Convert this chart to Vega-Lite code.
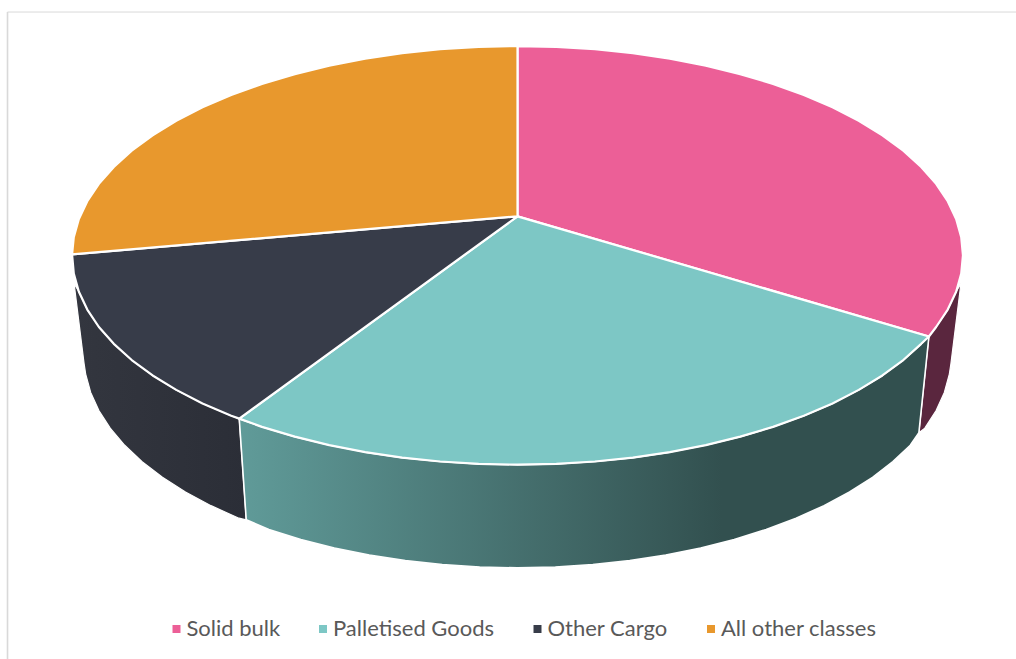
{
"$schema":"https://vega.github.io/schema/vega-lite/v6.json",
"width":1016,"height":659,"padding":0,
"autosize":{"type":"fit","contains":"padding"},
"background":"white",
"config":{"view":{"stroke":null},"font":"Lato"},
"datasets":{
"frame":[{"x":-509.5,"x2":499,"y":204,"y2":-443}],
"walls_bulk":[
{"seq":0,"x":443,"y":-67},{"seq":1,"x":433,"y":-147},{"seq":2,"x":431.4,"y":-157.5},{"seq":3,"x":426.4,"y":-175.8},{"seq":4,"x":418.2,"y":-193.9},{"seq":5,"x":406.9,"y":-211.5},{"seq":6,"x":401,"y":-216},{"seq":7,"x":411,"y":-120},{"seq":8,"x":418.2,"y":-110.5},{"seq":9,"x":429.8,"y":-93.1},{"seq":10,"x":438.2,"y":-75.3},{"seq":11,"x":443,"y":-67}],
"walls_goods":[
{"seq":0,"x":411,"y":-120},{"seq":1,"x":403.3,"y":-127.3},{"seq":2,"x":385.4,"y":-143.5},{"seq":3,"x":364.5,"y":-158.9},{"seq":4,"x":340.9,"y":-173.3},{"seq":5,"x":314.7,"y":-186.8},{"seq":6,"x":286,"y":-199.1},{"seq":7,"x":255.3,"y":-210.2},{"seq":8,"x":222.5,"y":-220},{"seq":9,"x":188.1,"y":-228.4},{"seq":10,"x":152.2,"y":-235.4},{"seq":11,"x":115.2,"y":-240.9},{"seq":12,"x":77.3,"y":-244.8},{"seq":13,"x":38.8,"y":-247.2},{"seq":14,"x":0,"y":-248},{"seq":15,"x":-38.8,"y":-247.2},{"seq":16,"x":-77.3,"y":-244.8},{"seq":17,"x":-115.2,"y":-240.9},{"seq":18,"x":-152.2,"y":-235.4},{"seq":19,"x":-188.1,"y":-228.4},{"seq":20,"x":-222.5,"y":-220},{"seq":21,"x":-255.3,"y":-210.2},{"seq":22,"x":-278,"y":-202},
{"seq":23,"x":-271,"y":-303},{"seq":24,"x":-248.4,"y":-312.7},{"seq":25,"x":-216.5,"y":-322.6},{"seq":26,"x":-183,"y":-331.1},{"seq":27,"x":-148.1,"y":-338.2},{"seq":28,"x":-112.1,"y":-343.8},{"seq":29,"x":-75.2,"y":-347.8},{"seq":30,"x":-37.8,"y":-350.2},{"seq":31,"x":0,"y":-351},{"seq":32,"x":37.8,"y":-350.2},{"seq":33,"x":75.2,"y":-347.8},{"seq":34,"x":112.1,"y":-343.8},{"seq":35,"x":148.1,"y":-338.2},{"seq":36,"x":183,"y":-331.1},{"seq":37,"x":216.5,"y":-322.6},{"seq":38,"x":248.4,"y":-312.7},{"seq":39,"x":278.3,"y":-301.4},{"seq":40,"x":306.2,"y":-288.9},{"seq":41,"x":331.7,"y":-275.3},{"seq":42,"x":354.7,"y":-260.6},{"seq":43,"x":375,"y":-245},{"seq":44,"x":392.4,"y":-228.6},{"seq":45,"x":401,"y":-216},{"seq":46,"x":411,"y":-120}],
"walls_other":[
{"seq":0,"x":-278,"y":-202},{"seq":1,"x":-286,"y":-199.1},{"seq":2,"x":-314.7,"y":-186.8},{"seq":3,"x":-340.9,"y":-173.3},{"seq":4,"x":-364.5,"y":-158.9},{"seq":5,"x":-385.4,"y":-143.5},{"seq":6,"x":-403.3,"y":-127.3},{"seq":7,"x":-418.2,"y":-110.5},{"seq":8,"x":-429.8,"y":-93.1},{"seq":9,"x":-438.2,"y":-75.3},{"seq":10,"x":-443,"y":-67},{"seq":11,"x":-433,"y":-147},{"seq":12,"x":-431.4,"y":-157.5},{"seq":13,"x":-426.4,"y":-175.8},{"seq":14,"x":-418.2,"y":-193.9},{"seq":15,"x":-406.9,"y":-211.5},{"seq":16,"x":-392.4,"y":-228.6},{"seq":17,"x":-375,"y":-245},{"seq":18,"x":-354.7,"y":-260.6},{"seq":19,"x":-331.7,"y":-275.3},{"seq":20,"x":-306.2,"y":-288.9},{"seq":21,"x":-278.3,"y":-301.4},{"seq":22,"x":-271,"y":-303},{"seq":23,"x":-278,"y":-202}],
"faces":[
{"class":"Solid bulk","seq":0,"x":0,"y":0},{"class":"Solid bulk","seq":1,"x":0,"y":170},{"class":"Solid bulk","seq":2,"x":38.8,"y":169.2},{"class":"Solid bulk","seq":3,"x":77.3,"y":166.8},{"class":"Solid bulk","seq":4,"x":115.2,"y":162.9},{"class":"Solid bulk","seq":5,"x":152.2,"y":157.4},{"class":"Solid bulk","seq":6,"x":188.1,"y":150.4},{"class":"Solid bulk","seq":7,"x":222.5,"y":142},{"class":"Solid bulk","seq":8,"x":255.3,"y":132.2},{"class":"Solid bulk","seq":9,"x":286,"y":121.1},{"class":"Solid bulk","seq":10,"x":314.7,"y":108.8},{"class":"Solid bulk","seq":11,"x":340.9,"y":95.3},{"class":"Solid bulk","seq":12,"x":364.5,"y":80.9},{"class":"Solid bulk","seq":13,"x":385.4,"y":65.5},{"class":"Solid bulk","seq":14,"x":403.3,"y":49.3},{"class":"Solid bulk","seq":15,"x":418.2,"y":32.5},{"class":"Solid bulk","seq":16,"x":429.8,"y":15.1},{"class":"Solid bulk","seq":17,"x":438.2,"y":-2.7},{"class":"Solid bulk","seq":18,"x":443.3,"y":-20.8},{"class":"Solid bulk","seq":19,"x":445,"y":-39},{"class":"Solid bulk","seq":20,"x":443.3,"y":-57.2},{"class":"Solid bulk","seq":21,"x":438.2,"y":-75.3},{"class":"Solid bulk","seq":22,"x":429.8,"y":-93.1},{"class":"Solid bulk","seq":23,"x":418.2,"y":-110.5},{"class":"Solid bulk","seq":24,"x":411,"y":-120},{"class":"Solid bulk","seq":25,"x":0,"y":0},
{"class":"Palletised Goods","seq":0,"x":0,"y":0},{"class":"Palletised Goods","seq":1,"x":411,"y":-120},{"class":"Palletised Goods","seq":2,"x":403.3,"y":-127.3},{"class":"Palletised Goods","seq":3,"x":385.4,"y":-143.5},{"class":"Palletised Goods","seq":4,"x":364.5,"y":-158.9},{"class":"Palletised Goods","seq":5,"x":340.9,"y":-173.3},{"class":"Palletised Goods","seq":6,"x":314.7,"y":-186.8},{"class":"Palletised Goods","seq":7,"x":286,"y":-199.1},{"class":"Palletised Goods","seq":8,"x":255.3,"y":-210.2},{"class":"Palletised Goods","seq":9,"x":222.5,"y":-220},{"class":"Palletised Goods","seq":10,"x":188.1,"y":-228.4},{"class":"Palletised Goods","seq":11,"x":152.2,"y":-235.4},{"class":"Palletised Goods","seq":12,"x":115.2,"y":-240.9},{"class":"Palletised Goods","seq":13,"x":77.3,"y":-244.8},{"class":"Palletised Goods","seq":14,"x":38.8,"y":-247.2},{"class":"Palletised Goods","seq":15,"x":0,"y":-248},{"class":"Palletised Goods","seq":16,"x":-38.8,"y":-247.2},{"class":"Palletised Goods","seq":17,"x":-77.3,"y":-244.8},{"class":"Palletised Goods","seq":18,"x":-115.2,"y":-240.9},{"class":"Palletised Goods","seq":19,"x":-152.2,"y":-235.4},{"class":"Palletised Goods","seq":20,"x":-188.1,"y":-228.4},{"class":"Palletised Goods","seq":21,"x":-222.5,"y":-220},{"class":"Palletised Goods","seq":22,"x":-255.3,"y":-210.2},{"class":"Palletised Goods","seq":23,"x":-278,"y":-202},{"class":"Palletised Goods","seq":24,"x":0,"y":0},
{"class":"Other Cargo","seq":0,"x":0,"y":0},{"class":"Other Cargo","seq":1,"x":-278,"y":-202},{"class":"Other Cargo","seq":2,"x":-286,"y":-199.1},{"class":"Other Cargo","seq":3,"x":-314.7,"y":-186.8},{"class":"Other Cargo","seq":4,"x":-340.9,"y":-173.3},{"class":"Other Cargo","seq":5,"x":-364.5,"y":-158.9},{"class":"Other Cargo","seq":6,"x":-385.4,"y":-143.5},{"class":"Other Cargo","seq":7,"x":-403.3,"y":-127.3},{"class":"Other Cargo","seq":8,"x":-418.2,"y":-110.5},{"class":"Other Cargo","seq":9,"x":-429.8,"y":-93.1},{"class":"Other Cargo","seq":10,"x":-438.2,"y":-75.3},{"class":"Other Cargo","seq":11,"x":-443.3,"y":-57.2},{"class":"Other Cargo","seq":12,"x":-445,"y":-38},{"class":"Other Cargo","seq":13,"x":0,"y":0},
{"class":"All other classes","seq":0,"x":0,"y":0},{"class":"All other classes","seq":1,"x":-445,"y":-38},{"class":"All other classes","seq":2,"x":-443.3,"y":-20.8},{"class":"All other classes","seq":3,"x":-438.2,"y":-2.7},{"class":"All other classes","seq":4,"x":-429.8,"y":15.1},{"class":"All other classes","seq":5,"x":-418.2,"y":32.5},{"class":"All other classes","seq":6,"x":-403.3,"y":49.3},{"class":"All other classes","seq":7,"x":-385.4,"y":65.5},{"class":"All other classes","seq":8,"x":-364.5,"y":80.9},{"class":"All other classes","seq":9,"x":-340.9,"y":95.3},{"class":"All other classes","seq":10,"x":-314.7,"y":108.8},{"class":"All other classes","seq":11,"x":-286,"y":121.1},{"class":"All other classes","seq":12,"x":-255.3,"y":132.2},{"class":"All other classes","seq":13,"x":-222.5,"y":142},{"class":"All other classes","seq":14,"x":-188.1,"y":150.4},{"class":"All other classes","seq":15,"x":-152.2,"y":157.4},{"class":"All other classes","seq":16,"x":-115.2,"y":162.9},{"class":"All other classes","seq":17,"x":-77.3,"y":166.8},{"class":"All other classes","seq":18,"x":-38.8,"y":169.2},{"class":"All other classes","seq":19,"x":0,"y":170},{"class":"All other classes","seq":20,"x":0,"y":0}
]
},
"encoding":{
"x":{"field":"x","type":"quantitative","axis":null,"scale":{"domain":[-517,498],"nice":false,"zero":false}},
"y":{"field":"y","type":"quantitative","axis":null,"scale":{"domain":[-442,216],"nice":false,"zero":false}}
},
"layer":[
{"data":{"name":"frame"},"mark":{"type":"rule","color":"#d9d9d9","strokeWidth":1.6,"clip":true},"encoding":{"y2":{"field":"y2"}}},
{"data":{"name":"frame"},"mark":{"type":"rule","color":"#d9d9d9","strokeWidth":1,"clip":true},"encoding":{"x2":{"field":"x2"}}},
{"data":{"name":"walls_bulk"},"mark":{"type":"line","fill":"#5a263e","stroke":"white","strokeWidth":1.2,"strokeJoin":"round"},"encoding":{"order":{"field":"seq"}}},
{"data":{"name":"walls_other"},"mark":{"type":"line","fill":{"gradient":"linear","x1":0,"y1":0,"x2":1,"y2":0,"stops":[{"offset":0,"color":"#33363f"},{"offset":1,"color":"#2b2e37"}]},"stroke":"white","strokeWidth":1.2,"strokeJoin":"round"},"encoding":{"order":{"field":"seq"}}},
{"data":{"name":"walls_goods"},"mark":{"type":"line","fill":{"gradient":"linear","x1":0,"y1":0,"x2":1,"y2":0,"stops":[{"offset":0,"color":"#609b99"},{"offset":0.7,"color":"#32504f"},{"offset":1,"color":"#32504f"}]},"stroke":"white","strokeWidth":1.6,"strokeJoin":"round"},"encoding":{"order":{"field":"seq"}}},
{"data":{"name":"faces"},"mark":{"type":"line","stroke":"white","strokeWidth":2.2,"strokeJoin":"round"},
"encoding":{
"order":{"field":"seq"},
"fill":{"field":"class","type":"nominal","sort":null,
"scale":{"domain":["Solid bulk","Palletised Goods","Other Cargo","All other classes"],"range":["#ec5f97","#7dc7c5","#373c49","#e8982d"]},
"legend":{"title":null,"orient":"none","legendX":165.5,"legendY":618,"direction":"horizontal","columns":4,"symbolType":"square","symbolSize":64,"symbolStrokeWidth":0,"labelFont":"Lato","labelFontSize":22,"labelColor":"#595959","labelOffset":-1,"labelLimit":300,"columnPadding":31.5,"padding":0}}
}}
]
}
